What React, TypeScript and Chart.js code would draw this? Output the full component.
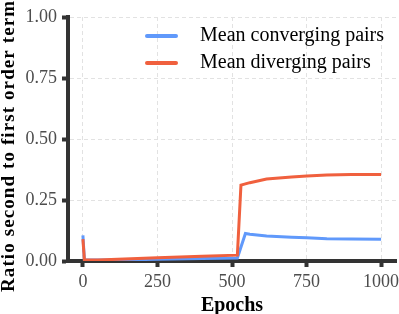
import React, { useEffect, useRef } from "react";
import { Chart, registerables } from "chart.js";

Chart.register(...registerables);

const seriesLabels = ["Mean converging pairs", "Mean diverging pairs"];
const seriesColors = ["#6099fb", "#f0603e"];

const convergingEpochs = [0, 5, 100, 250, 400, 518, 545, 560, 616, 700, 751, 818, 900, 1000];
const convergingValues = [0.105, 0.004, 0.004, 0.007, 0.010, 0.012, 0.113, 0.110, 0.102, 0.097, 0.095, 0.091, 0.090, 0.089];

const divergingEpochs = [0, 5, 50, 250, 400, 518, 530, 560, 616, 700, 751, 818, 900, 1000];
const divergingValues = [0.09, 0.004, 0.004, 0.013, 0.019, 0.024, 0.311, 0.321, 0.336, 0.344, 0.348, 0.352, 0.354, 0.354];

const xTicks = [0, 250, 500, 750, 1000];
const yTicks = [0, 0.25, 0.5, 0.75, 1.0];

const xTitle = "Epochs";
const yTitle = "Ratio second to first order term";

const FONT = "'Liberation Serif', serif";

const legendPlugin = {
  id: "insideLegend",
  afterDraw(chart: any) {
    const { ctx, chartArea } = chart;
    ctx.save();
    chart.data.datasets.forEach((ds: any, i: number) => {
      const y = chartArea.top + 19 + i * 27;
      ctx.strokeStyle = ds.borderColor;
      ctx.lineWidth = 4;
      ctx.lineCap = "round";
      ctx.beginPath();
      ctx.moveTo(chartArea.left + 79, y);
      ctx.lineTo(chartArea.left + 108, y);
      ctx.stroke();
      ctx.fillStyle = "#000";
      ctx.font = `20px ${FONT}`;
      ctx.textBaseline = "middle";
      ctx.textAlign = "left";
      ctx.fillText(ds.label, chartArea.left + 132, y);
    });
    ctx.restore();
  },
};

const yTitlePlugin = {
  id: "yTitleDraw",
  afterDraw(chart: any) {
    const { ctx, chartArea } = chart;
    ctx.save();
    ctx.translate(9, chartArea.bottom + 31);
    ctx.rotate(-Math.PI / 2);
    ctx.fillStyle = "#000";
    ctx.font = `bold 19px ${FONT}`;
    (ctx as any).letterSpacing = "1.1px";
    ctx.textAlign = "left";
    ctx.textBaseline = "middle";
    ctx.fillText(yTitle, 0, 0);
    ctx.restore();
  },
};

export default function App() {
  const canvasRef = useRef<HTMLCanvasElement | null>(null);

  useEffect(() => {
    const canvas = canvasRef.current;
    if (!canvas) return;
    const chart = new Chart(canvas, {
      type: "line",
      data: {
        datasets: [
          {
            label: seriesLabels[0],
            data: convergingEpochs.map((x, i) => ({ x, y: convergingValues[i] })),
            borderColor: seriesColors[0],
            backgroundColor: seriesColors[0],
            borderWidth: 3,
            pointRadius: 0,
            tension: 0,
            order: 1,
          },
          {
            label: seriesLabels[1],
            data: divergingEpochs.map((x, i) => ({ x, y: divergingValues[i] })),
            borderColor: seriesColors[1],
            backgroundColor: seriesColors[1],
            borderWidth: 3,
            pointRadius: 0,
            tension: 0,
            order: 0,
          },
        ],
      },
      options: {
        animation: false,
        responsive: false,
        maintainAspectRatio: false,
        layout: { padding: { top: 17, right: 3, left: 0, bottom: 0 } },
        plugins: {
          legend: { display: false },
          tooltip: { enabled: false },
        },
        scales: {
          x: {
            type: "linear",
            min: -50,
            max: 1050,
            afterBuildTicks: (axis: any) => {
              axis.ticks = xTicks.map((v) => ({ value: v }));
            },
            afterFit: (axis: any) => {
              axis.height = 53;
              axis.paddingLeft = 0;
              axis.paddingRight = 0;
            },
            ticks: {
              font: { family: FONT, size: 18 },
              color: "#4d4d4d",
              padding: 4,
              maxRotation: 0,
              autoSkip: false,
              callback: (v: any) => String(v),
            },
            grid: {
              color: "#e2e2e2",
              lineWidth: 1,
              drawTicks: true,
              tickLength: 6,
              tickWidth: 4,
              tickColor: "#333333",
              tickBorderDash: [],
            } as any,
            border: { display: true, color: "#333333", width: 4, dash: [4, 3] },
            title: {
              display: true,
              text: xTitle,
              color: "#000",
              font: { family: FONT, size: 20, weight: "bold", lineHeight: 1.0 },
              padding: { top: 0, bottom: -2 },
            },
          },
          y: {
            type: "linear",
            min: 0,
            max: 1,
            afterBuildTicks: (axis: any) => {
              axis.ticks = yTicks.map((v) => ({ value: v }));
            },
            afterFit: (axis: any) => {
              axis.width = 68;
            },
            ticks: {
              font: { family: FONT, size: 18 },
              color: "#4d4d4d",
              padding: 5,
              callback: (v: any) => Number(v).toFixed(2),
            },
            grid: {
              color: "#e2e2e2",
              lineWidth: 1,
              drawTicks: true,
              tickLength: 6,
              tickWidth: 4,
              tickColor: "#333333",
              tickBorderDash: [],
            } as any,
            border: { display: true, color: "#333333", width: 4, dash: [4, 3] },
            title: { display: false },
          },
        },
      },
      plugins: [legendPlugin, yTitlePlugin],
    });
    return () => chart.destroy();
  }, []);

  return (
    <div style={{ position: "absolute", left: 0, top: 0, width: 399, height: 314 }}>
      <canvas ref={canvasRef} width={399} height={314} />
    </div>
  );
}
